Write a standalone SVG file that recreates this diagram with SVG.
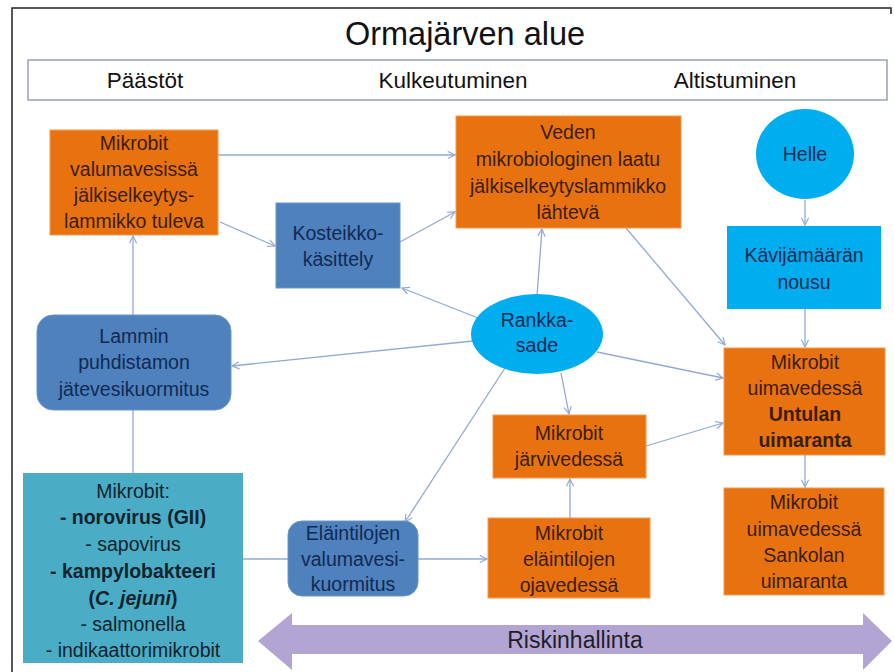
<svg xmlns="http://www.w3.org/2000/svg" width="894" height="672" viewBox="0 0 894 672">
<defs>
<style>
text{font-family:"Liberation Sans",Arial,sans-serif;text-anchor:middle;}
.t{font-size:19.5px;}
.h{font-size:22.5px;fill:#111;}
.or{fill:#e8720f;stroke:#f29a4f;stroke-width:1;}
.ot{fill:#3b1d05;}
.bl{fill:#4f81bd;stroke:#6a95c8;stroke-width:1;}
.bt{fill:#0f2a55;}
.cy{fill:#00aeef;}
.ct{fill:#0f2a55;}
.te{fill:#4bacc6;}
.tt{fill:#10242e;}
.c{fill:none;stroke:#93a9d2;stroke-width:1.3;}
.a{marker-end:url(#ar);}
</style>
<marker id="ar" viewBox="0 0 10 10" refX="9" refY="5" markerWidth="9" markerHeight="9" orient="auto" markerUnits="userSpaceOnUse">
<path d="M1,1 L9,5 L1,9" fill="none" stroke="#93a9d2" stroke-width="1.3"/>
</marker>
</defs>
<rect x="0" y="0" width="894" height="672" fill="#ffffff"/>
<path d="M12,672 V8 H891 V14" fill="none" stroke="#222" stroke-width="1.5"/>
<g id="title"><text x="465" y="45" style="font-size:32.5px" fill="#111">Ormajärven alue</text></g>
<g id="header">
<rect x="28" y="60" width="859" height="40" fill="#fff" stroke="#8b93a8" stroke-width="1.3"/>
<text class="h" x="145" y="88">Päästöt</text>
<text class="h" x="453" y="88">Kulkeutuminen</text>
<text class="h" x="735" y="88">Altistuminen</text>
</g>
<g id="connectors">
<line class="c a" x1="218" y1="155" x2="455" y2="155"/>
<line class="c a" x1="220" y1="222" x2="275" y2="246"/>
<line class="c a" x1="400" y1="242" x2="455" y2="212"/>
<line class="c a" x1="133" y1="315" x2="133" y2="236"/>
<line class="c" x1="133" y1="410" x2="133" y2="473"/>
<line class="c a" x1="478" y1="318" x2="402" y2="288"/>
<line class="c a" x1="473" y1="341" x2="232" y2="366"/>
<line class="c a" x1="537" y1="296" x2="542" y2="229"/>
<line class="c a" x1="597" y1="352" x2="723" y2="378"/>
<line class="c a" x1="561" y1="373" x2="569" y2="414"/>
<line class="c a" x1="505" y1="368" x2="405" y2="522"/>
<line class="c a" x1="626" y1="228" x2="725" y2="345"/>
<line class="c a" x1="805" y1="200" x2="805" y2="225"/>
<line class="c a" x1="805" y1="309" x2="805" y2="347"/>
<line class="c a" x1="646" y1="446" x2="723" y2="423"/>
<line class="c a" x1="805" y1="455" x2="805" y2="487"/>
<line class="c" x1="243" y1="559" x2="288" y2="559"/>
<line class="c a" x1="418" y1="559" x2="487" y2="559"/>
<line class="c a" x1="570" y1="518" x2="570" y2="479"/>
</g>
<g id="n1">
<rect class="or" x="50" y="130" width="168" height="105"/>
<text class="t ot" x="134" y="150">Mikrobit</text>
<text class="t ot" x="134" y="176">valumavesissä</text>
<text class="t ot" x="134" y="202">jälkiselkeytys-</text>
<text class="t ot" x="134" y="228">lammikko tuleva</text>
</g>
<g id="n2">
<rect class="bl" x="276" y="203" width="124" height="85"/>
<text class="t bt" x="338" y="240">Kosteikko-</text>
<text class="t bt" x="338" y="266">käsittely</text>
</g>
<g id="n3">
<rect class="or" x="456" y="116" width="225" height="112"/>
<text class="t ot" x="568" y="139">Veden</text>
<text class="t ot" x="568" y="166">mikrobiologinen laatu</text>
<text class="t ot" x="568" y="193">jälkiselkeytyslammikko</text>
<text class="t ot" x="568" y="219">lähtevä</text>
</g>
<g id="n4">
<ellipse class="cy" cx="805" cy="154" rx="49" ry="45"/>
<text class="t ct" x="805" y="161">Helle</text>
</g>
<g id="n5">
<rect class="cy" x="727" y="226" width="154" height="83"/>
<text class="t ct" x="804" y="262">Kävijämäärän</text>
<text class="t ct" x="804" y="289">nousu</text>
</g>
<g id="n6">
<ellipse class="cy" cx="537" cy="334" rx="66" ry="40"/>
<text class="t ct" x="537" y="327">Rankka-</text>
<text class="t ct" x="537" y="352">sade</text>
</g>
<g id="n7">
<rect class="bl" x="37" y="315" width="194" height="95" rx="16"/>
<text class="t bt" x="134" y="343">Lammin</text>
<text class="t bt" x="134" y="369">puhdistamon</text>
<text class="t bt" x="134" y="396">jätevesikuormitus</text>
</g>
<g id="n8">
<rect class="or" x="724" y="348" width="161" height="107"/>
<text class="t ot" x="805" y="369">Mikrobit</text>
<text class="t ot" x="805" y="395">uimavedessä</text>
<text class="t ot" x="805" y="421" font-weight="bold">Untulan</text>
<text class="t ot" x="805" y="447" font-weight="bold">uimaranta</text>
</g>
<g id="n9">
<rect class="or" x="493" y="415" width="153" height="63"/>
<text class="t ot" x="569" y="440">Mikrobit</text>
<text class="t ot" x="569" y="466">järvivedessä</text>
</g>
<g id="n10">
<rect class="te" x="23" y="473" width="220" height="190"/>
<text class="t tt" x="133" y="498">Mikrobit:</text>
<text class="t tt" x="133" y="524" font-weight="bold">- norovirus (GII)</text>
<text class="t tt" x="133" y="551">- sapovirus</text>
<text class="t tt" x="133" y="578" font-weight="bold">- kampylobakteeri</text>
<text class="t tt" x="133" y="605" font-weight="bold">(<tspan font-style="italic">C. jejuni</tspan>)</text>
<text class="t tt" x="133" y="631">- salmonella</text>
<text class="t tt" x="133" y="657">- indikaattorimikrobit</text>
</g>
<g id="n11">
<rect class="bl" x="288" y="521" width="130" height="75" rx="14"/>
<text class="t bt" x="353" y="540">Eläintilojen</text>
<text class="t bt" x="353" y="566">valumavesi-</text>
<text class="t bt" x="353" y="591">kuormitus</text>
</g>
<g id="n12">
<rect class="or" x="488" y="518" width="162" height="80"/>
<text class="t ot" x="569" y="540">Mikrobit</text>
<text class="t ot" x="569" y="566">eläintilojen</text>
<text class="t ot" x="569" y="592">ojavedessä</text>
</g>
<g id="n13">
<rect class="or" x="724" y="488" width="160" height="107"/>
<text class="t ot" x="804" y="509">Mikrobit</text>
<text class="t ot" x="804" y="536">uimavedessä</text>
<text class="t ot" x="804" y="562">Sankolan</text>
<text class="t ot" x="804" y="588">uimaranta</text>
</g>
<g id="n14">
<polygon points="258,641 292,613 292,625 863,625 863,613 892,641 863,670 863,654 292,654 292,670" fill="#b3a5d3"/>
<text x="575" y="648" style="font-size:23px" fill="#1e1e2a">Riskinhallinta</text>
</g>
</svg>
